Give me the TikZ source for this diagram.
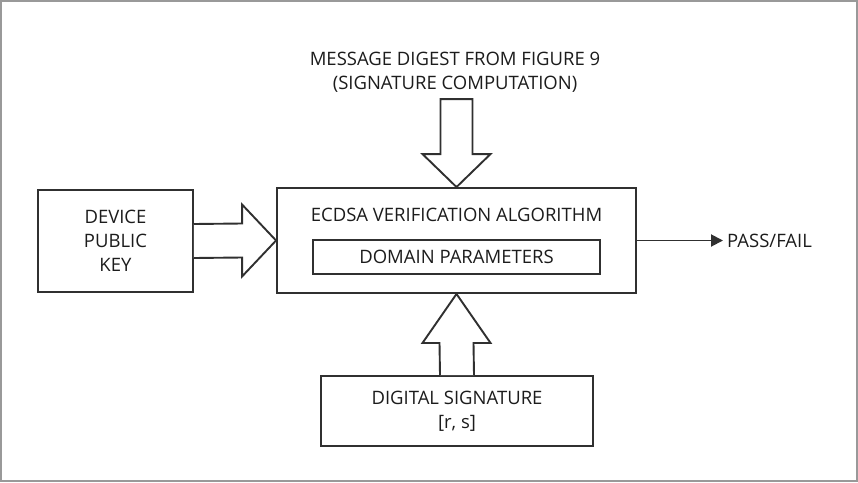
\documentclass[tikz,border=0pt]{standalone}
\usepackage{fontspec}
\setmainfont{Open Sans}
\usetikzlibrary{calc}
\usetikzlibrary{arrows.meta}

\definecolor{inkgray}{HTML}{303030}
\definecolor{textgray}{HTML}{1C1C1C}

\begin{document}
\begin{tikzpicture}[x=1pt, y=-1pt,
  every node/.style={font=\fontsize{18.5}{24}\selectfont, text=textgray, inner sep=0pt},
  blk/.style={draw=inkgray, line width=1.9pt, align=center},
  fat/.style={draw=inkgray, line width=1.9pt, fill=white, line join=miter}]
\useasboundingbox (0,0) rectangle (858,482);
\draw[gray!80, line width=2pt] (1,1) rectangle (857,481);
% boxes
\node[blk, minimum width=155, minimum height=102] (key) at (115.5,241) {DEVICE\\PUBLIC\\KEY};
\node[blk, minimum width=359, minimum height=105] (alg) at (456.5,240.5) {};
\node (algtxt) at (456.5,215) {ECDSA VERIFICATION ALGORITHM};
\node[blk, minimum width=287, minimum height=34] (dom) at (456.5,257) {DOMAIN PARAMETERS};
\node[blk, minimum width=272, minimum height=70] (sig) at (457,411) {DIGITAL SIGNATURE\\{[r, s]}};
\node[align=center] (msg) at (455,72) {MESSAGE DIGEST FROM FIGURE 9\\(SIGNATURE COMPUTATION)};
\node[anchor=west] (res) at (727,240.5) {PASS/FAIL};
\coordinate (msgend) at ($(alg.north)+(0,-88)$);
% fat arrows
\draw[fat] ($(msgend)+(-16,0)$) -- ($(alg.north)+(-16,-33)$) -- ($(alg.north)+(-34,-33)$)
  -- (alg.north) -- ($(alg.north)+(34,-33)$) -- ($(alg.north)+(16,-33)$) -- ($(msgend)+(16,0)$) -- cycle;
\draw[fat] ($(key.east)+(0,-17)$) -- ($(alg.west)+(-34,-17)$) -- ($(alg.west)+(-34,-36)$)
  -- (alg.west) -- ($(alg.west)+(-34,36)$) -- ($(alg.west)+(-34,17)$) -- ($(key.east)+(0,17)$);
\draw[fat] ($(sig.north)+(-17,0)$) -- ($(alg.south)+(-17,49)$) -- ($(alg.south)+(-34,49)$)
  -- (alg.south) -- ($(alg.south)+(34,49)$) -- ($(alg.south)+(17,49)$) -- ($(sig.north)+(17,0)$);
\draw[inkgray, line width=1.9pt, -{Triangle[length=12pt,width=12pt]}] (alg.east) -- ($(res.west)+(-4,0)$);
\end{tikzpicture}
\end{document}
